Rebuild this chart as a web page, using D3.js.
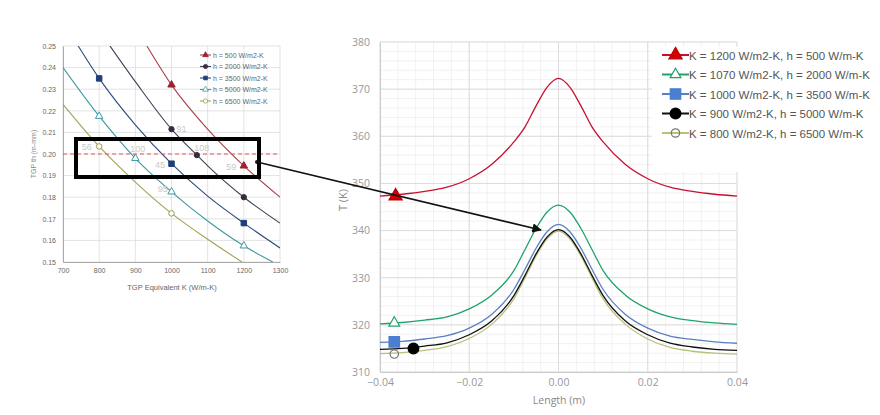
<!DOCTYPE html>
<html><head><meta charset="utf-8">
<script src="https://cdn.jsdelivr.net/npm/d3@7"></script>
<style>body{margin:0;background:#fff}svg{display:block;font-family:"Liberation Sans",Arial,sans-serif}</style>
</head><body><svg id="c" width="880" height="415"></svg>
<script>
// ---------- Left chart data (TGP thickness vs K) ----------
const leftXTicks = [700,800,900,1000,1100,1200,1300];
const leftYTicks = [0.15,0.16,0.17,0.18,0.19,0.20,0.21,0.22,0.23,0.24,0.25];
const leftNames = ["h = 500 W/m2-K","h = 2000 W/m2-K","h = 3500 W/m2-K","h = 5000 W/m2-K","h = 6500 W/m2-K"];
const leftCurveK = [
  [932,1000,1100,1200,1300],
  [830,900,1000,1070,1100,1200,1300],
  [742,800,900,1000,1100,1200,1300],
  [700,800,900,1000,1100,1200,1280],
  [700,800,900,1000,1100,1195]
];
const leftCurveV = [
  [0.25,0.232,0.2115,0.1945,0.180],
  [0.25,0.2335,0.2115,0.1995,0.1945,0.180,0.168],
  [0.25,0.235,0.2135,0.1955,0.1805,0.168,0.1565],
  [0.240,0.2175,0.198,0.1825,0.169,0.1575,0.150],
  [0.223,0.2035,0.187,0.1725,0.1605,0.150]
];
const leftMarkK = [[1000,1200],[1000,1070,1200],[800,1000,1200],[800,900,1000,1200],[800,1000]];
const leftMarkV = [[0.232,0.1945],[0.2115,0.1995,0.180],[0.235,0.1955,0.168],[0.2175,0.198,0.1825,0.1575],[0.2035,0.1725]];
const leftNoteText = ["56","100","45","91","108","59","95"];
const leftNoteK = [766,907,968,1028,1084,1165,976];
const leftNoteV = [0.2032,0.2023,0.1949,0.2116,0.2028,0.194,0.1838];
const leftTarget = 0.20;

// ---------- Right chart data (temperature profiles) ----------
const rightXTicks = [-0.04,-0.02,0.00,0.02,0.04];
const rightYTicks = [310,320,330,340,350,360,370,380];
const lengthX = [-0.04,-0.035,-0.03,-0.025,-0.02,-0.015,-0.01,-0.0075,-0.005,-0.0025,0,0.0025,0.005,0.0075,0.01,0.015,0.02,0.025,0.03,0.035,0.04];
const seriesNames = ["K = 1200 W/m2-K, h = 500 W/m-K","K = 1070 W/m2-K, h = 2000 W/m-K","K = 1000 W/m2-K, h = 3500 W/m-K","K = 900 W/m2-K, h = 5000 W/m-K","K = 800 W/m2-K, h = 6500 W/m-K"];
const tK1200 = [347.3,347.7,348.3,349.2,351.0,354.0,358.8,362.0,366.5,370.5,372.3,370.5,366.5,362.0,358.8,354.0,351.0,349.2,348.3,347.7,347.3];
const tK1070 = [320.2,320.5,321.0,321.7,323.4,326.3,331.5,336.0,340.5,344.0,345.4,344.0,340.5,336.0,331.5,326.3,323.4,321.7,320.9,320.4,320.1];
const tK1000 = [316.3,316.5,317.0,317.7,319.3,322.2,327.5,331.8,336.3,339.8,341.3,339.8,336.3,331.8,327.5,322.2,319.3,317.6,316.9,316.4,316.1];
const tK900  = [314.8,315.0,315.5,316.2,317.9,320.8,326.2,330.5,335.1,338.7,340.2,338.7,335.1,330.5,326.2,320.8,317.9,316.1,315.3,314.8,314.6];
const tK800  = [313.9,314.1,314.6,315.4,317.1,320.1,325.5,330.0,334.7,338.3,339.9,338.3,334.7,330.0,325.5,320.1,317.0,315.2,314.4,314.0,313.8];
const markerX = [-0.0365,-0.0368,-0.0368,-0.0325,-0.0368];
const markerT = [347.3,320.4,316.4,315.0,313.8];

const svg = d3.select("#c");

// ================= LEFT CHART =================
const lx = d3.scaleLinear().domain([700,1300]).range([63,280]);
const ly = d3.scaleLinear().domain([0.15,0.25]).range([262,46]);
const L = svg.append("g");
L.append("g").selectAll("line").data(leftXTicks).join("line")
  .attr("x1",d=>lx(d)).attr("x2",d=>lx(d)).attr("y1",46).attr("y2",262)
  .attr("stroke","#dcdcdc").attr("stroke-width",0.8);
L.append("g").selectAll("line").data(leftYTicks).join("line")
  .attr("x1",63).attr("x2",280).attr("y1",d=>ly(d)).attr("y2",d=>ly(d))
  .attr("stroke","#dcdcdc").attr("stroke-width",0.8);
const lxa = L.append("g").attr("transform","translate(0,262)")
  .call(d3.axisBottom(lx).tickValues(leftXTicks).tickFormat(d3.format("d")).tickSize(0).tickPadding(6));
const lya = L.append("g").attr("transform","translate(63,0)")
  .call(d3.axisLeft(ly).tickValues(leftYTicks).tickFormat(d3.format(".2f")).tickSize(0).tickPadding(7));
[lxa,lya].forEach(a=>{a.select(".domain").attr("stroke","#aaa");a.selectAll("text").attr("font-size",7).attr("fill","#666");});
L.append("text").attr("x",172).attr("y",290).attr("text-anchor","middle").attr("font-size",7.5).attr("fill","#666").text("TGP Equivalent K (W/m-K)");
L.append("text").attr("transform","translate(36,154) rotate(-90)").attr("text-anchor","middle").attr("font-size",7).attr("fill","#888").text("TGP th (m-mm)");

const lColors = ["#a8404a","#3c4258","#2b4a78","#3e98a0","#a3a255"];
const lMarkFill = ["#a0202c","#3a2a3a","#1f3f78","#fff","#fff"];
const lMarkStroke = ["#a0202c","#3a2a3a","#1f3f78","#3e9aa0","#9a9a50"];
const lSym = [d3.symbolTriangle,d3.symbolCircle,d3.symbolSquare,d3.symbolTriangle,d3.symbolCircle];
L.append("clipPath").attr("id","lclip").append("rect").attr("x",63).attr("y",46).attr("width",217).attr("height",216);
const lline = d3.line().x(d=>lx(d[0])).y(d=>ly(d[1])).curve(d3.curveMonotoneX);
const lg = L.append("g").attr("clip-path","url(#lclip)");
leftCurveK.forEach((ks,i)=>{
  lg.append("path").attr("d",lline(ks.map((k,j)=>[k,leftCurveV[i][j]])))
    .attr("fill","none").attr("stroke",lColors[i]).attr("stroke-width",1.1);
});
lg.append("line").attr("x1",63).attr("x2",280).attr("y1",ly(leftTarget)).attr("y2",ly(leftTarget))
  .attr("stroke","#e05a5a").attr("stroke-width",1.2).attr("stroke-dasharray","4,3");
leftMarkK.forEach((ks,i)=>{
  ks.forEach((k,j)=>{
    L.append("path").attr("d",d3.symbol(lSym[i], i===2?30:(i===1?22:24))())
      .attr("transform",`translate(${lx(k)},${ly(leftMarkV[i][j])})`)
      .attr("fill",lMarkFill[i]).attr("stroke",lMarkStroke[i]).attr("stroke-width",1);
  });
});
leftNoteText.forEach((t,i)=>{
  L.append("text").attr("x",lx(leftNoteK[i])).attr("y",ly(leftNoteV[i])+3).attr("text-anchor","middle")
    .attr("font-size",9).attr("fill","#c8c8c8").text(t);
});
// left legend
leftNames.forEach((n,i)=>{
  const y = 55 + i*11.5;
  L.append("line").attr("x1",200).attr("x2",211).attr("y1",y).attr("y2",y).attr("stroke",lColors[i]).attr("stroke-width",1.1);
  L.append("path").attr("d",d3.symbol(lSym[i],14)()).attr("transform",`translate(205.5,${y})`)
    .attr("fill",lMarkFill[i]).attr("stroke",lMarkStroke[i]).attr("stroke-width",0.8);
  L.append("text").attr("x",213).attr("y",y+2.5).attr("font-size",7).attr("fill","#666").text(n);
});

// ================= RIGHT CHART =================
const rx = d3.scaleLinear().domain([-0.04,0.04]).range([380,737]);
const ry = d3.scaleLinear().domain([310,380]).range([372,42]);
const R = svg.append("g");
const minorX = d3.range(-0.04,0.0401,0.004);
const minorY = d3.range(310,380.1,2);
R.append("g").selectAll("line").data(minorX).join("line")
  .attr("x1",d=>rx(d)).attr("x2",d=>rx(d)).attr("y1",42).attr("y2",372).attr("stroke","#eeeeee").attr("stroke-width",0.8);
R.append("g").selectAll("line").data(minorY).join("line")
  .attr("x1",380).attr("x2",737).attr("y1",d=>ry(d)).attr("y2",d=>ry(d)).attr("stroke","#eeeeee").attr("stroke-width",0.8);
R.append("g").selectAll("line").data(rightXTicks).join("line")
  .attr("x1",d=>rx(d)).attr("x2",d=>rx(d)).attr("y1",42).attr("y2",372).attr("stroke","#dddddd").attr("stroke-width",1);
R.append("g").selectAll("line").data(rightYTicks).join("line")
  .attr("x1",380).attr("x2",737).attr("y1",d=>ry(d)).attr("y2",d=>ry(d)).attr("stroke","#dddddd").attr("stroke-width",1);
const rxa = R.append("g").attr("transform","translate(0,372)")
  .call(d3.axisBottom(rx).tickValues(rightXTicks).tickFormat(d3.format(".2f")).tickSize(0).tickPadding(7));
const rya = R.append("g").attr("transform","translate(380,0)")
  .call(d3.axisLeft(ry).tickValues(rightYTicks).tickFormat(d3.format("d")).tickSize(0).tickPadding(10));
[rxa,rya].forEach(a=>{a.select(".domain").attr("stroke","#cccccc");a.selectAll("text").attr("font-size",10.5).attr("fill","#999").attr("font-family","'Open Sans',sans-serif");});
R.append("text").attr("x",559).attr("y",404).attr("text-anchor","middle").attr("font-size",10.5).attr("fill","#888").attr("font-family","'Open Sans',sans-serif").text("Length (m)");
R.append("text").attr("transform","translate(347,200) rotate(-90)").attr("text-anchor","middle").attr("font-size",11).attr("fill","#888").attr("font-family","'Open Sans',sans-serif").text("T (K)");

const rSeries = [tK1200,tK1070,tK1000,tK900,tK800];
const rColors = ["#c8102e","#1fa36a","#5a80c0","#111111","#b8c07a"];
const rline = d3.line().x((d,i)=>rx(lengthX[i])).y(d=>ry(d)).curve(d3.curveMonotoneX);
[4,3,2,1,0].forEach(i=>{
  R.append("path").attr("d",rline(rSeries[i])).attr("fill","none").attr("stroke",rColors[i]).attr("stroke-width",1.3);
});
const rSym = [d3.symbolTriangle,d3.symbolTriangle,d3.symbolSquare,d3.symbolCircle,d3.symbolCircle];
const rFill = ["#d40000","#fff","#4a7fd0","#000","none"];
const rStroke = ["#b80000","#1fa36a","#4a7fd0","#000","#777"];
const rSize = [75,50,110,90,55];
function drawMarker(g,i,x,y,scale){
  g.append("path").attr("d",d3.symbol(rSym[i],rSize[i]*scale)())
    .attr("transform",`translate(${x},${y})`)
    .attr("fill",rFill[i]).attr("stroke",rStroke[i]).attr("stroke-width",1.2);
}
markerX.forEach((x,i)=>drawMarker(R,i,rx(x),ry(markerT[i]),1));

// legend
R.append("rect").attr("x",652).attr("y",47).attr("width",228).attr("height",125).attr("fill","#fff");
seriesNames.forEach((n,i)=>{
  const y = 55 + i*19.5;
  R.append("line").attr("x1",662).attr("x2",689).attr("y1",y).attr("y2",y).attr("stroke",rColors[i]).attr("stroke-width",2);
  drawMarker(R,i,675.5,y,1);
  R.append("text").attr("x",689).attr("y",y+4.5).attr("font-size",11.5).attr("fill","#555")
    .attr("font-family","'Liberation Sans',Arial,sans-serif").text(n);
});

// ================= ZOOM BOX + ARROW =================
svg.append("defs").append("marker").attr("id","ah").attr("viewBox","0 0 10 10").attr("refX",9).attr("refY",5)
  .attr("markerWidth",6).attr("markerHeight",6).attr("orient","auto")
  .append("path").attr("d","M0,0 L10,5 L0,10 z").attr("fill","#111");
svg.append("rect").attr("x",76).attr("y",139).attr("width",183).attr("height",38)
  .attr("fill","none").attr("stroke","#000").attr("stroke-width",4);
svg.append("circle").attr("cx",257).attr("cy",162).attr("r",2).attr("fill","#111");
svg.append("line").attr("x1",257).attr("y1",162).attr("x2",541).attr("y2",230)
  .attr("stroke","#111").attr("stroke-width",1.6).attr("marker-end","url(#ah)");
</script></body></html>
